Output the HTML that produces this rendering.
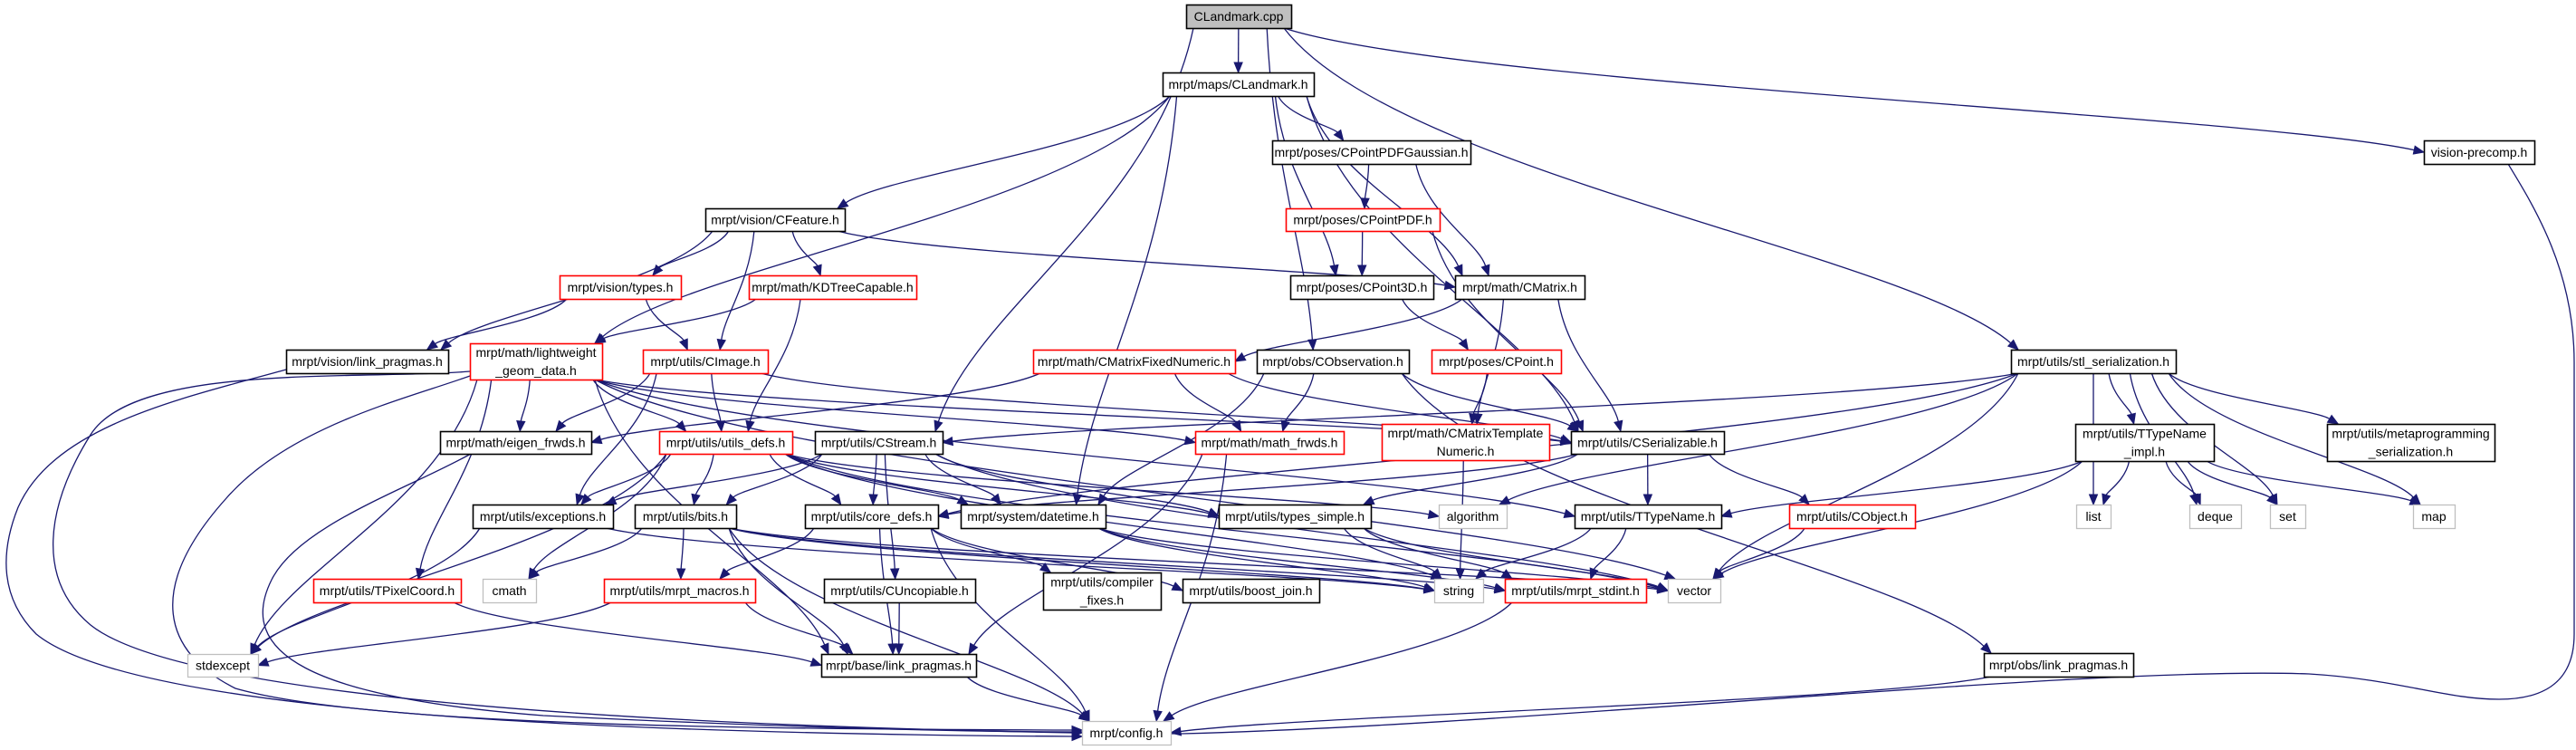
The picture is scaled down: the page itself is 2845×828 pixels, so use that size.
<!DOCTYPE html>
<html><head><meta charset="utf-8"><style>
html,body{margin:0;padding:0;background:#fff;}
svg{display:block;}
text{font-family:"Liberation Sans",sans-serif;font-size:14px;fill:#000;}
</style></head><body>
<svg id="g" width="2845" height="828" xmlns="http://www.w3.org/2000/svg">
<g id="edges"></g>
<g id="nodes">
</g>
</svg>
<script>
var N={
cpp:[["CLandmark.cpp"],1310,5,1426,31,"f"],
lm:[["mrpt/maps/CLandmark.h"],1284,80,1451,106,"b"],
pdfg:[["mrpt/poses/CPointPDFGaussian.h"],1405,155,1624,181,"b"],
vp:[["vision-precomp.h"],2677,155,2799,181,"b"],
feat:[["mrpt/vision/CFeature.h"],779,230,933,255,"b"],
pdf:[["mrpt/poses/CPointPDF.h"],1420,230,1590,255,"r"],
vtypes:[["mrpt/vision/types.h"],618,304,752,330,"r"],
kd:[["mrpt/math/KDTreeCapable.h"],827,304,1012,330,"r"],
p3d:[["mrpt/poses/CPoint3D.h"],1425,304,1583,330,"b"],
cm:[["mrpt/math/CMatrix.h"],1607,304,1750,330,"b"],
vlp:[["mrpt/vision/link_pragmas.h"],316,386,495,412,"b"],
lw:[["mrpt/math/lightweight","_geom_data.h"],519,379,665,419,"r"],
cimg:[["mrpt/utils/CImage.h"],710,386,848,412,"r"],
cmfn:[["mrpt/math/CMatrixFixedNumeric.h"],1141,386,1364,412,"r"],
obs:[["mrpt/obs/CObservation.h"],1388,386,1556,412,"b"],
cpt:[["mrpt/poses/CPoint.h"],1581,386,1724,412,"r"],
stl:[["mrpt/utils/stl_serialization.h"],2221,386,2403,412,"b"],
eig:[["mrpt/math/eigen_frwds.h"],486,476,653,501,"b"],
ud:[["mrpt/utils/utils_defs.h"],728,476,875,501,"r"],
cs:[["mrpt/utils/CStream.h"],900,476,1041,501,"b"],
mf:[["mrpt/math/math_frwds.h"],1320,476,1484,501,"r"],
cmtn:[["mrpt/math/CMatrixTemplate","Numeric.h"],1526,468,1711,508,"r"],
ser:[["mrpt/utils/CSerializable.h"],1735,476,1904,501,"b"],
tti:[["mrpt/utils/TTypeName","_impl.h"],2292,468,2445,509,"b"],
meta:[["mrpt/utils/metaprogramming","_serialization.h"],2570,468,2755,509,"b"],
exc:[["mrpt/utils/exceptions.h"],522,557,677,583,"b"],
bits:[["mrpt/utils/bits.h"],701,557,813,583,"b"],
core:[["mrpt/utils/core_defs.h"],889,557,1036,583,"b"],
dt:[["mrpt/system/datetime.h"],1061,557,1221,583,"b"],
ts:[["mrpt/utils/types_simple.h"],1346,557,1514,583,"b"],
alg:[["algorithm"],1589,557,1664,583,"g"],
ttn:[["mrpt/utils/TTypeName.h"],1739,557,1901,583,"b"],
cobj:[["mrpt/utils/CObject.h"],1976,557,2115,583,"r"],
list:[["list"],2293,557,2331,583,"g"],
deque:[["deque"],2418,557,2475,583,"g"],
set:[["set"],2507,557,2546,583,"g"],
map:[["map"],2665,557,2711,583,"g"],
tpc:[["mrpt/utils/TPixelCoord.h"],346,639,509,665,"r"],
cmath:[["cmath"],533,639,592,665,"g"],
mac:[["mrpt/utils/mrpt_macros.h"],667,639,834,665,"r"],
unc:[["mrpt/utils/CUncopiable.h"],910,639,1077,665,"b"],
cf:[["mrpt/utils/compiler","_fixes.h"],1152,632,1282,673,"b"],
bj:[["mrpt/utils/boost_join.h"],1306,639,1457,665,"b"],
str:[["string"],1584,639,1638,665,"g"],
sti:[["mrpt/utils/mrpt_stdint.h"],1662,639,1818,665,"r"],
vec:[["vector"],1842,639,1900,665,"g"],
sexc:[["stdexcept"],207,722,285,747,"g"],
blp:[["mrpt/base/link_pragmas.h"],907,722,1078,747,"b"],
olp:[["mrpt/obs/link_pragmas.h"],2191,721,2356,747,"b"],
cfg:[["mrpt/config.h"],1195,796,1293,822,"g"]
};
var E="cpp lm,cpp cs,cpp obs,cpp vp,cpp stl,lm lw,lm feat,lm dt,lm pdfg,lm p3d,lm cm,lm ser,pdfg pdf,pdfg cm,pdf p3d,pdf ser,feat vlp,feat vtypes,feat cimg,feat kd,feat cm,vtypes vlp,vtypes cimg,kd lw,kd ud,p3d cpt,cpt cmtn,cm cmfn,cm cmtn,cm ser,cmfn eig,cmfn mf,cmfn ser,obs mf,obs dt,obs ser,obs olp,lw eig,lw ud,lw sexc,lw tpc,lw blp,lw mf,lw ser,lw ttn,lw vec,cimg eig,cimg ud,cimg exc,cimg ser,ud exc,ud bits,ud core,ud ts,ud cmath,ud sexc,ud alg,ud str,ud vec,ud dt,cs exc,cs bits,cs core,cs unc,cs dt,cs ts,cs vec,stl cs,stl tti,stl meta,stl list,stl deque,stl set,stl map,stl vec,stl alg,stl core,tti ttn,tti list,tti deque,tti set,tti map,tti vec,ser cobj,ser ttn,ser core,ser ts,ttn str,ttn sti,cobj vec,core cf,core bj,core mac,core blp,core cfg,bits cmath,bits mac,bits blp,bits str,bits vec,bits sti,bits cfg,exc sexc,exc str,mac sexc,mac blp,tpc blp,unc blp,blp cfg,sti cfg,olp cfg,ts str,ts vec,ts sti,dt str,dt sti,dt vec,mf cfg,mf blp,cmtn str".split(",");
var NS="http://www.w3.org/2000/svg";
var ng=document.getElementById("nodes"),eg=document.getElementById("edges");
function el(t,a,p){var e=document.createElementNS(NS,t);for(var k in a)e.setAttribute(k,a[k]);p.appendChild(e);return e;}
for(var k in N){var n=N[k],x1=n[1],y1=n[2],x2=n[3],y2=n[4],t=n[5];
 var st=t=="r"?"#ff0000":(t=="g"?"#bfbfbf":"#000");
 el("rect",{x:x1+0.5,y:y1+0.5,width:x2-x1,height:y2-y1,fill:t=="f"?"#bfbfbf":"#fff",stroke:st,"stroke-width":t=="g"?1.3:1.6},ng);
 var L=n[0],cx=(x1+x2)/2,cy=(y1+y2)/2;
 for(var i=0;i<L.length;i++){var yy=cy+5+(i-(L.length-1)/2)*20;
  var tx=el("text",{x:cx,y:yy,"text-anchor":"middle"},ng);tx.textContent=L[i];}
}
function cl(v,a,b){return Math.max(a,Math.min(b,v));}
function draw(d,ex,ey,vx,vy){var l=Math.sqrt(vx*vx+vy*vy)||1;vx/=l;vy/=l;
 var bx=ex-vx*11,by=ey-vy*11;
 el("path",{d:d+" "+bx+","+by,fill:"none",stroke:"#191970","stroke-width":1.3},eg);
 el("polygon",{points:ex+","+ey+" "+(bx-vy*4.5)+","+(by+vx*4.5)+" "+(bx+vy*4.5)+","+(by-vx*4.5),fill:"#191970",stroke:"#191970"},eg);}
E.forEach(function(s){var p=s.split(" "),S=N[p[0]],T=N[p[1]];if(!S||!T)return;
 var scx=(S[1]+S[3])/2,tcx=(T[1]+T[3])/2,tcy=(T[2]+T[4])/2;
 var sx=cl(scx+(tcx-scx)*0.3,S[1]+8,S[3]-8),sy=S[4];
 var dy=T[2]-sy,dx=tcx-sx,ex,ey;
 if(dy<=4||Math.abs(dx)>6*dy){var sg=dx>0?1:-1;ex=sg>0?T[1]:T[3];ey=tcy;
  if(dy<=4){sx=sg>0?S[3]:S[1];sy=(S[2]+S[4])/2;}}
 else{ex=cl(tcx+(sx-tcx)*0.3,T[1]+8,T[3]-8);ey=T[2];}
 var c1x=sx+(ex-sx)*0.15,c1y=sy+(ey-sy)*0.45,c2x=ex-(ex-sx)*0.15,c2y=ey-(ey-sy)*0.3;
 draw("M"+sx+","+sy+" C"+c1x+","+c1y+" "+c2x+","+c2y,ex,ey,ex-c2x,ey-c2y);
});
// custom long routes to config.h
draw("M2770,181 C2800,230 2843,300 2843,400 L2843,700 C2843,760 2800,772 2760,772 C2700,772 2650,750 2550,744 C2300,735 1700,800 1305,810 L1305,810",1293,810,1,0);
draw("M316,408 C200,440 60,470 20,560 C0,610 0,660 40,700 C150,790 700,810 1183,813 L1183,813",1195,813,1,0);
draw("M519,410 C400,420 150,400 100,480 C50,560 40,640 100,690 C200,770 700,800 1183,809 L1183,809",1195,809,1,0);
draw("M519,415 C450,440 320,470 250,550 C160,650 180,720 260,760 C400,800 800,805 1183,806 L1183,806",1195,806,1,0);
draw("M520,501 C450,540 330,580 300,640 C260,720 340,770 600,790 C900,805 1100,808 1183,808 L1183,808",1195,808,1,0);
</script>
</body></html>
